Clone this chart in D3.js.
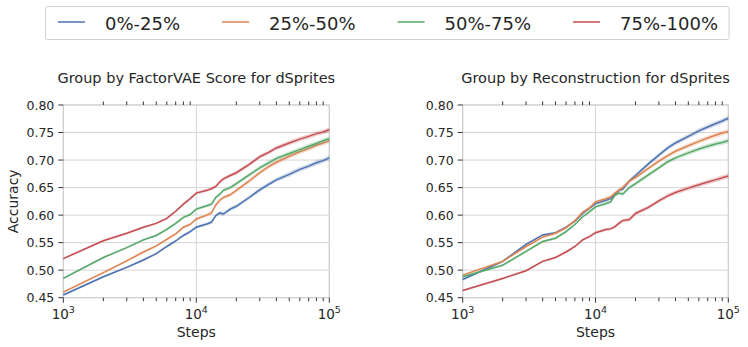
<!DOCTYPE html>
<html>
<head>
<meta charset="utf-8">
<script src="https://cdn.jsdelivr.net/npm/d3@7"></script>
<style>
  body { margin: 0; background: #fff; }
  text { font-family: "DejaVu Sans", sans-serif; fill: #262626; }
</style>
</head>
<body>
<svg></svg>
<script>
var width = 748,
  height = 347;

// Data
var steps = [1000, 2000, 3000, 4000, 5000, 6000, 7000, 8000, 9000, 10000, 12000, 13000, 14000, 15000,
  16000, 18000, 20000, 25000, 30000, 35000, 40000, 50000, 60000, 70000, 80000, 90000, 100000];

var groups = ["0%-25%", "25%-50%", "50%-75%", "75%-100%"];
var colors = ["#4c72b0", "#dd8452", "#55a868", "#c44e52"];

var factorBlue = [.455, .488, .505, .5185, .530, .543, .553, .563, .570, .578, .584, .587, .599, .604,
  .602, .611, .616, .632, .646, .656, .664, .674, .683, .689, .695, .699, .704];
var factorOrange = [.460, .4955, .517, .533, .544, .556, .566, .578, .583, .593, .600, .604, .618, .627,
  .632, .637, .645, .662, .677, .688, .696, .707, .715, .721, .727, .731, .735];
var factorGreen = [.485, .523, .541, .555, .563, .574, .585, .596, .601, .611, .617, .620, .632, .638,
  .645, .650, .657, .673, .686, .695, .703, .712, .719, .725, .730, .735, .739];
var factorRed = [.521, .5535, .567, .578, .585, .594, .607, .620, .630, .640, .645, .648, .652, .660,
  .666, .672, .677, .692, .706, .714, .722, .731, .738, .743, .748, .751, .755];

var reconBlue = [.483, .516, .547, .564, .568, .578, .589, .603, .612, .621, .627, .630, .638, .645,
  .647, .662, .672, .693, .709, .722, .731, .743, .753, .760, .766, .771, .776];
var reconOrange = [.491, .516, .543, .560, .567, .577, .590, .605, .613, .624, .630, .633, .640, .645,
  .650, .662, .668, .685, .698, .708, .716, .726, .734, .740, .745, .749, .752];
var reconGreen = [.488, .509, .534, .552, .558, .570, .583, .597, .606, .615, .621, .624, .636, .640,
  .638, .650, .657, .673, .686, .697, .704, .713, .720, .725, .729, .732, .735];
var reconRed = [.463, .485, .499, .516, .523, .533, .543, .555, .561, .568, .574, .575, .579, .585,
  .590, .592, .603, .614, .626, .635, .641, .649, .655, .660, .664, .668, .671];

// half width of the shaded band
var ciHalf = [.002, .002, .002, .0022, .0022, .0024, .0024, .0025, .0026, .0027, .003, .003, .003, .0032,
  .0032, .0034, .0035, .0036, .0038, .004, .004, .0042, .0043, .0044, .0045, .0045, .0046];

var yTicks = [0.45, 0.50, 0.55, 0.60, 0.65, 0.70, 0.75, 0.80];
var xTicks = [1e3, 1e4, 1e5];
var xMinor = [2e3, 3e3, 4e3, 5e3, 6e3, 7e3, 8e3, 9e3, 2e4, 3e4, 4e4, 5e4, 6e4, 7e4, 8e4, 9e4];

var panels = [
  { title: "Group by FactorVAE Score for dSprites", left: 63.3, right: 329.3,
    series: [factorBlue, factorOrange, factorGreen, factorRed], ylabel: true },
  { title: "Group by Reconstruction for dSprites", left: 462.7, right: 728.3,
    series: [reconBlue, reconOrange, reconGreen, reconRed], ylabel: false }
];

var svg = d3.select("svg")
  .attr("width", width)
  .attr("height", height);

var plotTop = 105, plotBottom = 297.7;

panels.forEach(drawPanel);
drawLegend();

function drawPanel(p) {
  var x = d3.scaleLog().domain([1e3, 1e5]).range([p.left, p.right]);
  var y = d3.scaleLinear().domain([0.45, 0.80]).range([plotBottom, plotTop]);
  var g = svg.append("g");

  // grid
  g.selectAll(".hgrid").data(yTicks).enter().append("line")
    .attr("x1", p.left).attr("x2", p.right)
    .attr("y1", function(d) { return y(d); })
    .attr("y2", function(d) { return y(d); })
    .attr("stroke", "#d5d5d5").attr("stroke-width", 1);
  g.selectAll(".vgrid").data(xTicks).enter().append("line")
    .attr("x1", function(d) { return x(d); })
    .attr("x2", function(d) { return x(d); })
    .attr("y1", plotTop).attr("y2", plotBottom)
    .attr("stroke", "#d5d5d5").attr("stroke-width", 1);

  // frame
  g.append("rect")
    .attr("x", p.left).attr("y", plotTop)
    .attr("width", p.right - p.left).attr("height", plotBottom - plotTop)
    .attr("fill", "none").attr("stroke", "#cccccc").attr("stroke-width", 1);

  var area = d3.area()
    .x(function(d, i) { return x(steps[i]); })
    .y0(function(d, i) { return y(d - ciHalf[i]); })
    .y1(function(d, i) { return y(d + ciHalf[i]); });
  var line = d3.line()
    .x(function(d, i) { return x(steps[i]); })
    .y(function(d) { return y(d); });

  p.series.forEach(function(s, k) {
    g.append("path").attr("d", area(s))
      .attr("fill", colors[k]).attr("fill-opacity", 0.25);
    g.append("path").attr("d", line(s))
      .attr("fill", "none").attr("stroke", colors[k]).attr("stroke-width", 1.5);
  });

  // y axis
  g.selectAll(".ytick").data(yTicks).enter().append("line")
    .attr("x1", p.left - 5).attr("x2", p.left)
    .attr("y1", function(d) { return y(d); })
    .attr("y2", function(d) { return y(d); })
    .attr("stroke", "#333").attr("stroke-width", 1);
  g.selectAll(".ylab").data(yTicks).enter().append("text")
    .attr("x", p.left - 9)
    .attr("y", function(d) { return y(d) + 4.5; })
    .attr("text-anchor", "end")
    .style("font-size", "12.5px")
    .text(function(d) { return d.toFixed(2); });

  // x axis: major ticks at bottom, minor ticks bottom and top
  g.selectAll(".xtick").data(xTicks).enter().append("line")
    .attr("x1", function(d) { return x(d); })
    .attr("x2", function(d) { return x(d); })
    .attr("y1", plotBottom).attr("y2", plotBottom + 5)
    .attr("stroke", "#333");
  g.selectAll(".xminor").data(xMinor).enter().append("line")
    .attr("x1", function(d) { return x(d); })
    .attr("x2", function(d) { return x(d); })
    .attr("y1", plotBottom).attr("y2", plotBottom + 3.5)
    .attr("stroke", "#333");
  g.selectAll(".xminortop").data(xMinor).enter().append("line")
    .attr("x1", function(d) { return x(d); })
    .attr("x2", function(d) { return x(d); })
    .attr("y1", plotTop).attr("y2", plotTop - 3.5)
    .attr("stroke", "#333");

  var xl = g.selectAll(".xlab").data(xTicks).enter().append("text")
    .attr("x", function(d) { return x(d); })
    .attr("y", 318.5)
    .attr("text-anchor", "middle")
    .style("font-size", "13.5px");
  xl.append("tspan").text("10");
  xl.append("tspan")
    .attr("dy", -6).style("font-size", "9.5px")
    .text(function(d) { return Math.round(Math.log10(d)); });

  g.append("text")
    .attr("x", (p.left + p.right) / 2).attr("y", 337)
    .attr("text-anchor", "middle")
    .style("font-size", "14px")
    .text("Steps");

  g.append("text")
    .attr("x", (p.left + p.right) / 2).attr("y", 83)
    .attr("text-anchor", "middle")
    .style("font-size", "14.5px")
    .text(p.title);

  if (p.ylabel) {
    g.append("text")
      .attr("transform", "translate(18," + ((plotTop + plotBottom) / 2) + ") rotate(-90)")
      .attr("text-anchor", "middle")
      .style("font-size", "14px")
      .text("Accuracy");
  }
}

function drawLegend() {
  var lg = svg.append("g");
  var box = lg.append("rect")
    .attr("x", 45.5).attr("y", 6.5)
    .attr("height", 33)
    .attr("rx", 2)
    .attr("fill", "#fff").attr("stroke", "#d0d0d0").attr("stroke-width", 1);

  var cx = 58;
  groups.forEach(function(name, i) {
    lg.append("line")
      .attr("x1", cx).attr("x2", cx + 27)
      .attr("y1", 22).attr("y2", 22)
      .attr("stroke", colors[i]).attr("stroke-width", 1.5);
    var t = lg.append("text")
      .attr("x", cx + 47).attr("y", 29.5)
      .style("font-size", "18px")
      .text(name);
    var w = t.node().getComputedTextLength();
    cx = cx + 47 + w + 42;
  });
  box.attr("width", cx - 42 + 11 - 45.5);
}
</script>
</body>
</html>
